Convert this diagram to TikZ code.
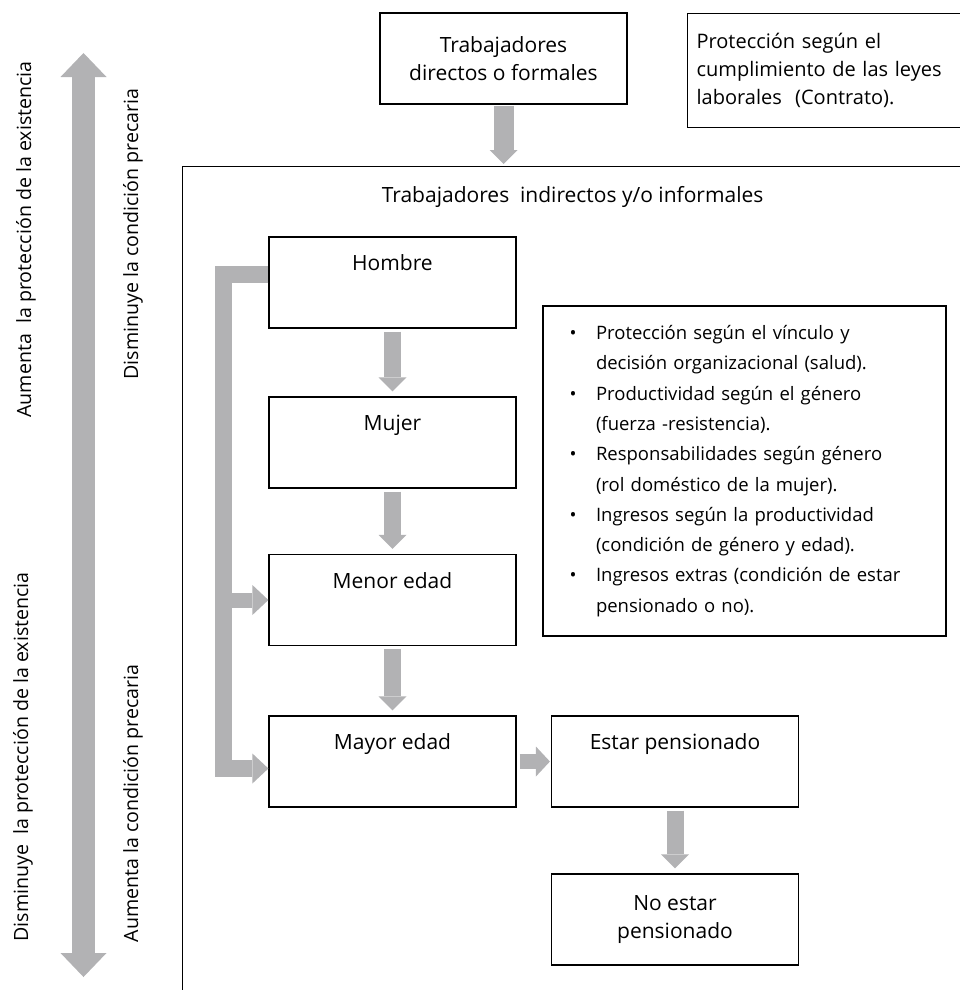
\documentclass[tikz,border=0pt]{standalone}
\usepackage{fontspec}
\setmainfont{Open Sans}
\usepackage{tikz}
\usetikzlibrary{arrows.meta,positioning}
\definecolor{grisflecha}{RGB}{178,178,180}
\newcommand{\vineta}{\leavevmode\llap{\textbullet\hspace{19.5pt}}}

\begin{document}
\begin{tikzpicture}[x=1pt,y=-1pt,on grid,
    caja/.style={draw,line width=1.2pt,minimum width=247pt,minimum height=91pt,inner sep=0pt,align=center,font=\fontsize{21}{28}\selectfont},
    etapa/.style={caja,text height=33.5pt,text depth=57.5pt},
    punta/.style={-{Triangle[width=#1,length=14pt,line width=0pt]}},
    bloque/.style={draw,grisflecha,line width=17pt,shorten <=3pt,shorten >=5pt,punta=28pt},
    rotulo/.style={rotate=90,font=\fontsize{19.6}{24}\selectfont}]
  \useasboundingbox (0,0) rectangle (959,990);

  % cajas de arriba
  \node[caja] (directos) at (503.5,58.5) {Trabajadores\\directos o formales};
  \node[draw,line width=1.2pt,anchor=north west,minimum height=114pt,text width=275pt,inner xsep=9pt,align=left,font=\fontsize{20}{28}\selectfont] (leyes) at (687,13) {Protección según el\\cumplimiento de las leyes\\laborales\ \ (Contrato).};
  \node[draw,line width=1.2pt,anchor=north west,minimum width=780pt,inner sep=0pt,text height=36pt,text depth=794pt,font=\fontsize{21}{28}\selectfont] (informales) at (182,166) {Trabajadores\ \ indirectos y/o informales};

  % etapas
  \node[etapa] (hombre) at (392.5,282.5) {Hombre};
  \node[etapa] (mujer)        [below=160pt of hombre]      {Mujer};
  \node[etapa] (menor)        [below=157.5pt of mujer]     {Menor edad};
  \node[etapa] (mayor)        [below=161.5pt of menor]     {Mayor edad};
  \node[etapa] (pensionado)   [right=282.5pt of mayor]     {Estar pensionado};
  \node[caja]  (nopensionado) [below=158pt of pensionado]  {No estar\\pensionado};

  \node[draw,line width=1.2pt,minimum width=403pt,minimum height=330pt,text width=383pt,inner xsep=10pt,align=left,font=\fontsize{18.5}{30.3}\selectfont] (factores) at (744.5,471) {\leftskip=43pt
    \vineta Protección según el vínculo y\\
    decisión organizacional (salud).\\
    \vineta Productividad según el género\\
    (fuerza -resistencia).\\
    \vineta Responsabilidades según género\\
    (rol doméstico de la mujer).\\
    \vineta Ingresos según la productividad\\
    (condición de género y edad).\\
    \vineta Ingresos extras (condición de estar\\
    pensionado o no).\par};

  % rotulos del eje
  \node[rotulo] (aumentaproteccion)   at (26,239.5) {Aumenta\ \ la protección de la existencia};
  \node[rotulo] (disminuyeprecaria)   at (133,234)  {Disminuye la condición precaria};
  \node[rotulo] (disminuyeproteccion) at (23,757)   {Disminuye\ \ la protección de la existencia};
  \node[rotulo] (aumentaprecaria)     at (133,803.5) {Aumenta la condición precaria};

  \coordinate (cima) at (83.5,53);
  \coordinate (fondo) at (83.5,977);
  \draw[grisflecha,line width=23pt,{Triangle[width=46pt,length=24pt,line width=0pt]}-{Triangle[width=46pt,length=24pt,line width=0pt]}] (cima) -- (fondo);

  % flechas entre cajas
  \path[bloque]
    (directos) edge [line width=20pt,shorten >=2pt,shorten <=1pt] (directos |- informales.north)
    (hombre) edge (mujer)
    (mujer) edge (menor)
    (menor) edge (mayor)
    (mayor) edge [line width=15pt,punta=30pt,shorten >=1pt] (pensionado)
    (pensionado) edge (nopensionado);

  % corchete
  \coordinate (espina) at ([xshift=-44.5pt,yshift=8pt]hombre.west);
  \draw[bloque,line join=miter,shorten <=0pt,shorten >=0pt,-{Triangle[width=30pt,length=16pt,line width=0pt]}]
    ([yshift=8pt]hombre.west) -- (espina) |- ([yshift=-7pt]mayor.west);
  \draw[bloque,line width=15pt,shorten <=0pt,shorten >=0pt,-{Triangle[width=30pt,length=16pt,line width=0pt]}]
    (espina |- menor.west) -- (menor.west);
\end{tikzpicture}
\end{document}
